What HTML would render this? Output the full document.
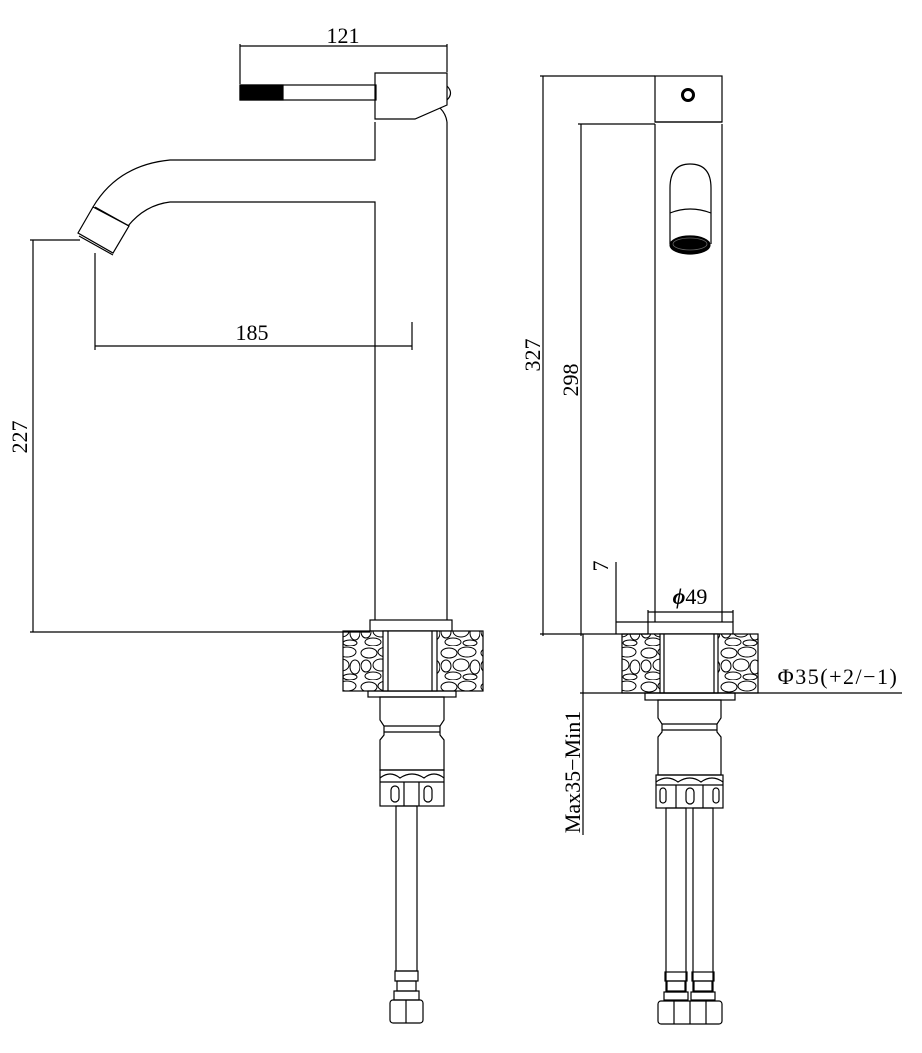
<!DOCTYPE html>
<html><head><meta charset="utf-8"><style>
html,body{margin:0;padding:0;background:#fff;}
svg{display:block;}
text{font-family:"Liberation Serif",serif;font-size:22px;fill:#000;}
</style></head><body>
<svg width="922" height="1053" viewBox="0 0 922 1053" xmlns="http://www.w3.org/2000/svg">
<defs>
<pattern id="rock" width="40" height="34" patternUnits="userSpaceOnUse">
<rect width="40" height="34" fill="#fff"/>
<g fill="none" stroke="#000" stroke-width="1">
<ellipse cx="9" cy="7" rx="8" ry="5"/><ellipse cx="27" cy="6" rx="9" ry="5"/>
<ellipse cx="6" cy="20" rx="5" ry="6"/><ellipse cx="21" cy="19" rx="8" ry="6"/>
<ellipse cx="35" cy="21" rx="5" ry="7"/><ellipse cx="13" cy="30" rx="8" ry="4"/>
<ellipse cx="30" cy="31" rx="7" ry="3"/>
</g></pattern>
</defs>
<g fill="none" stroke="#000" stroke-width="1.2">
<rect x="240" y="85" width="136" height="15"/>
<rect x="240" y="85" width="43" height="15" fill="#000"/>
<path d="M375 73 H447 V105 L415 119 H375 Z"/>
<path d="M447 86 Q454 93 447 100"/>
<path d="M440 108 Q446 114 447 122"/>
<path d="M375 122 V160 H170 Q118 165 93 207"/>
<path d="M447 122 V620"/>
<path d="M375 620 V202 H170 Q145 205 128 226"/>
<path d="M93 207 L78 233 L113 253 L129 226 Z"/>
<line x1="95" y1="207" x2="129" y2="226"/>
<line x1="79" y1="236" x2="113" y2="255"/>
<rect x="370" y="620" width="82" height="11"/>
<rect x="343" y="631" width="140" height="60" fill="url(#rock)"/>
<rect x="383" y="631" width="54" height="60" fill="#fff"/>
<line x1="388" y1="631" x2="388" y2="691"/><line x1="432" y1="631" x2="432" y2="691"/>
<rect x="368" y="691" width="88" height="6"/>
<path d="M380 697 H444 V720 L440 726 V735 L444 740 V770 H380 V740 L384 735 V726 L380 720 Z"/>
<line x1="384" y1="726" x2="440" y2="726"/><line x1="384" y1="732" x2="440" y2="732"/>
<rect x="380" y="770" width="64" height="36"/>
<path d="M380 778 Q390 770 400 778 Q412 770 424 778 Q434 770 444 778"/>
<line x1="380" y1="782" x2="444" y2="782"/>
<line x1="404" y1="782" x2="404" y2="806"/><line x1="419" y1="782" x2="419" y2="806"/>
<rect x="391" y="786" width="8" height="16" rx="4"/><rect x="424" y="786" width="8" height="16" rx="4"/>
<rect x="396" y="806" width="21" height="165"/>
<rect x="395" y="971" width="23" height="10"/>
<rect x="397" y="981" width="19" height="10"/>
<rect x="394" y="991" width="25" height="9"/>
<rect x="390" y="1000" width="33" height="23" rx="3"/>
<line x1="406" y1="1000" x2="406" y2="1023"/>
<line x1="240" y1="46" x2="447" y2="46"/>
<line x1="240" y1="44" x2="240" y2="84"/><line x1="447" y1="44" x2="447" y2="72"/>
<line x1="95" y1="346" x2="412" y2="346"/>
<line x1="95" y1="253" x2="95" y2="350"/><line x1="412" y1="322" x2="412" y2="350"/>
<line x1="33" y1="240" x2="33" y2="632"/>
<line x1="30" y1="240" x2="80" y2="240"/><line x1="30" y1="632" x2="370" y2="632"/>

<rect x="655" y="76" width="67" height="46"/>
<circle cx="688" cy="95" r="5.5" stroke-width="3"/>
<line x1="655" y1="124" x2="655" y2="622"/><line x1="722" y1="124" x2="722" y2="622"/>
<line x1="655" y1="122" x2="722" y2="122"/>
<path d="M670 244 V188 Q670 164 690 164 Q711 164 711 188 V244"/>
<path d="M670 213 Q690 205 711 213"/>
<ellipse cx="690" cy="245" rx="20" ry="9" fill="#000"/>
<ellipse cx="690" cy="244" rx="17" ry="6" stroke="#666" stroke-width="0.8"/>
<rect x="648" y="622" width="85" height="12"/>
<rect x="622" y="634" width="136" height="59" fill="url(#rock)"/>
<rect x="660" y="634" width="58" height="59" fill="#fff"/>
<line x1="664" y1="634" x2="664" y2="693"/><line x1="714" y1="634" x2="714" y2="693"/>
<rect x="645" y="693" width="90" height="7"/>
<path d="M658 700 H721 V718 L717 724 V732 L721 737 V775 H658 V737 L662 732 V724 L658 718 Z"/>
<line x1="662" y1="724" x2="717" y2="724"/><line x1="662" y1="730" x2="717" y2="730"/>
<rect x="656" y="775" width="67" height="33"/>
<path d="M656 782 Q667 774 678 782 Q690 774 701 782 Q712 774 723 782"/>
<line x1="656" y1="785" x2="723" y2="785"/>
<line x1="676" y1="785" x2="676" y2="808"/><line x1="703" y1="785" x2="703" y2="808"/>
<rect x="660" y="788" width="6" height="15" rx="3"/><rect x="686" y="788" width="8" height="16" rx="4"/><rect x="713" y="788" width="6" height="15" rx="3"/>
<rect x="666" y="808" width="20" height="183"/><rect x="693" y="808" width="20" height="183"/>
<rect x="665" y="972" width="22" height="9"/><rect x="692" y="972" width="22" height="9"/>
<rect x="667" y="981" width="18" height="11"/><rect x="694" y="981" width="18" height="11"/>
<rect x="664" y="992" width="24" height="8"/><rect x="691" y="992" width="24" height="8"/>
<rect x="658" y="1001" width="64" height="23" rx="3"/>
<line x1="674" y1="1001" x2="674" y2="1024"/><line x1="690" y1="1001" x2="690" y2="1024"/><line x1="706" y1="1001" x2="706" y2="1024"/>
<line x1="543" y1="76" x2="543" y2="636"/>
<line x1="540" y1="76" x2="655" y2="76"/>
<line x1="581" y1="124" x2="581" y2="636"/>
<line x1="578" y1="124" x2="655" y2="124"/>
<line x1="540" y1="634" x2="648" y2="634"/>
<line x1="616" y1="562" x2="616" y2="634"/>
<line x1="616" y1="622" x2="648" y2="622"/>
<line x1="648" y1="612" x2="733" y2="612"/>
<line x1="648" y1="610" x2="648" y2="622"/><line x1="733" y1="610" x2="733" y2="622"/>
<line x1="583" y1="634" x2="583" y2="835"/>
<line x1="580" y1="693" x2="902" y2="693"/>
</g>
<text x="343" y="43" text-anchor="middle">121</text>
<text x="252" y="340" text-anchor="middle">185</text>
<text transform="translate(27,437) rotate(-90)" text-anchor="middle">227</text>
<text transform="translate(540,355) rotate(-90)" text-anchor="middle">327</text>
<text transform="translate(578,380) rotate(-90)" text-anchor="middle">298</text>
<text transform="translate(608,566) rotate(-90)" text-anchor="middle">7</text>
<text x="690" y="604" text-anchor="middle"><tspan font-style="italic" font-weight="bold">ϕ</tspan>49</text>
<text x="838" y="684" text-anchor="middle" letter-spacing="1.5">Φ35(+2/−1)</text>
<text transform="translate(580,772) rotate(-90)" text-anchor="middle">Max35−Min1</text>
</svg>
</body></html>
